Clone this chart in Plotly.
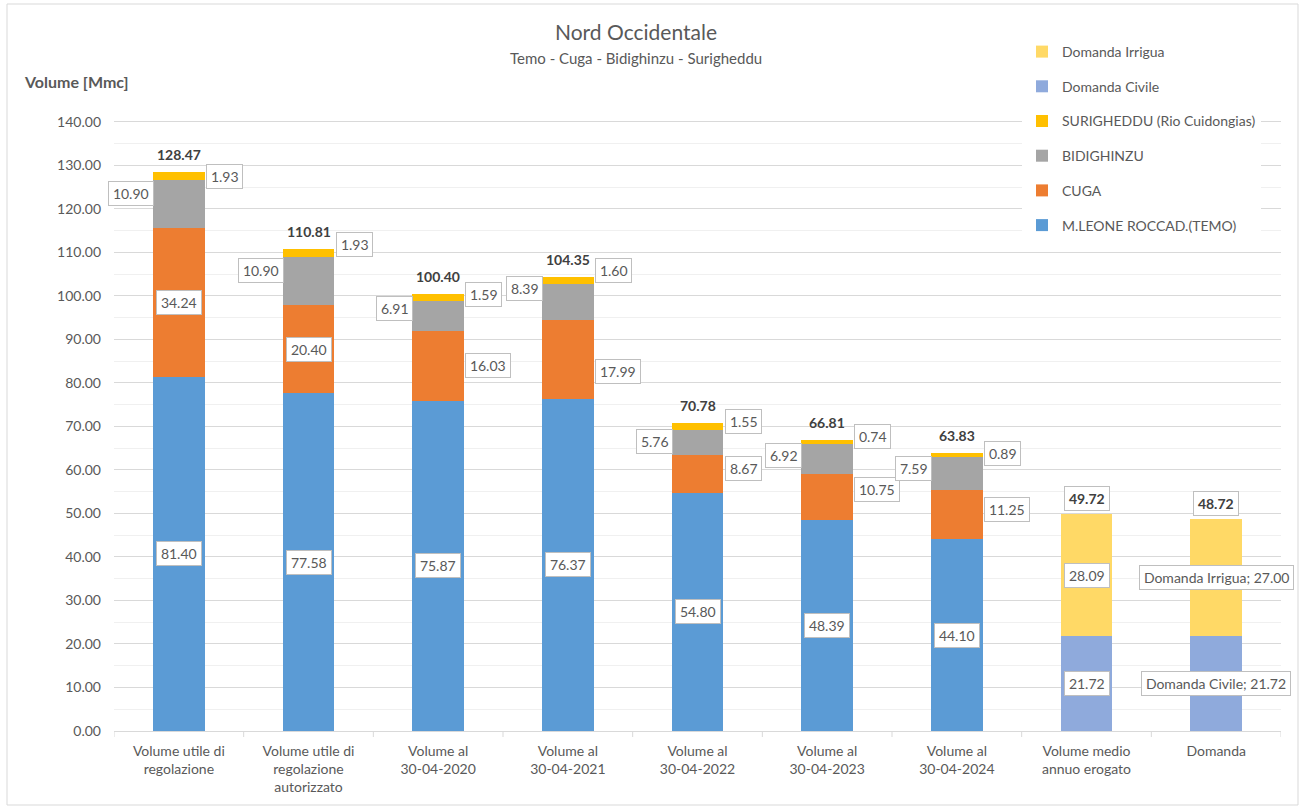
import plotly.graph_objects as go

# ---------------- data ----------------
categories = [
    "Volume utile di<br>regolazione",
    "Volume utile di<br>regolazione<br>autorizzato",
    "Volume al<br>30-04-2020",
    "Volume al<br>30-04-2021",
    "Volume al<br>30-04-2022",
    "Volume al<br>30-04-2023",
    "Volume al<br>30-04-2024",
    "Volume medio<br>annuo erogato",
    "Domanda",
]
temo = [81.40, 77.58, 75.87, 76.37, 54.80, 48.39, 44.10, None, None]
cuga = [34.24, 20.40, 16.03, 17.99, 8.67, 10.75, 11.25, None, None]
bidighinzu = [10.90, 10.90, 6.91, 8.39, 5.76, 6.92, 7.59, None, None]
surigheddu = [1.93, 1.93, 1.59, 1.60, 1.55, 0.74, 0.89, None, None]
dom_civile = [None, None, None, None, None, None, None, 21.72, 21.72]
dom_irrigua = [None, None, None, None, None, None, None, 28.09, 27.00]
totals = [128.47, 110.81, 100.40, 104.35, 70.78, 66.81, 63.83, 49.72, 48.72]
y_ticks = [0, 10, 20, 30, 40, 50, 60, 70, 80, 90, 100, 110, 120, 130, 140]

# ---------------- styles / label placement ----------------
FONT = "Lato, 'Open Sans', sans-serif"
TXT = "#595959"
BAR_W = 0.4
HALF_PX = 26  # half bar width in pixels
LBL = 14
PAD = "\u200a"

series = [
    ("M.LEONE ROCCAD.(TEMO)", temo, "#5B9BD5", 6),
    ("CUGA", cuga, "#ED7D31", 5),
    ("BIDIGHINZU", bidighinzu, "#A5A5A5", 4),
    ("SURIGHEDDU (Rio Cuidongias)", surigheddu, "#FFC000", 3),
    ("Domanda Civile", dom_civile, "#8FAADC", 2),
    ("Domanda Irrigua", dom_irrigua, "#FFD966", 1),
]
# per series, per category: (side, vertical pixel shift)
placement = {
    "M.LEONE ROCCAD.(TEMO)": [("c", 0)] * 7 + [None, None],
    "CUGA": [("c", 0), ("c", 0), ("r", 0), ("r", -12), ("r", 5), ("r", 8), ("r", 5), None, None],
    "BIDIGHINZU": [("l", 11), ("l", 10), ("l", 8), ("l", 14), ("l", 1), ("l", 3), ("l", 5), None, None],
    "SURIGHEDDU (Rio Cuidongias)": [("r", 0), ("r", 8), ("r", 3), ("r", 10), ("r", 5), ("r", 5), ("r", 2), None, None],
    "Domanda Civile": [None] * 7 + [("c", 0), ("c", 0)],
    "Domanda Irrigua": [None] * 7 + [("c", 0), ("c", 0)],
}
named_label = {("Domanda Civile", 8): True, ("Domanda Irrigua", 8): True}

fig = go.Figure()
for name, vals, col, rank in series:
    fig.add_trace(go.Bar(
        x=list(range(len(categories))), y=vals, name=name,
        marker=dict(color=col, line=dict(width=0)),
        width=BAR_W, legendgroup=name, legendrank=rank, hoverinfo="skip",
    ))

annotations = []
base = [0.0] * len(categories)
for name, vals, col, rank in series:
    for i, v in enumerate(vals):
        if v is None:
            continue
        mid = base[i] + v / 2
        side, dy = placement[name][i]
        text = f"{v:.2f}"
        if named_label.get((name, i)):
            text = f"{name}; {v:.2f}"
        if side == "c":
            xa, xs = "center", 0
        elif side == "r":
            xa, xs = "left", HALF_PX + 1
        else:
            xa, xs = "right", -HALF_PX + 1
        annotations.append(dict(
            x=i, y=mid, xref="x", yref="y", text=PAD + text + PAD,
            showarrow=False, xanchor=xa, yanchor="middle", xshift=xs, yshift=dy,
            bgcolor="white", bordercolor="#BFBFBF", borderwidth=1, borderpad=3,
            font=dict(family=FONT, size=LBL, color=TXT),
        ))
        base[i] += v

for i, t in enumerate(totals):
    boxed = i >= 7
    annotations.append(dict(
        x=i, y=base[i], xref="x", yref="y",
        text=(PAD if boxed else "") + f"<b>{t:.2f}</b>" + (PAD if boxed else ""),
        showarrow=False, xanchor="center", yanchor="bottom", yshift=5 if not boxed else 3,
        bgcolor="white" if boxed else "rgba(0,0,0,0)",
        bordercolor="#BFBFBF" if boxed else "rgba(0,0,0,0)", borderwidth=1, borderpad=3,
        font=dict(family=FONT, size=LBL, color="#404040"),
    ))

# titles (pixel -> paper conversion helpers)
L, R, T, B = 114, 25, 100, 78
W, H = 1306, 809
PW, PH = W - L - R, H - T - B
px = lambda x: (x - L) / PW
py = lambda y: (H - B - y) / PH

annotations += [
    dict(x=px(636), y=py(32), xref="paper", yref="paper", text="Nord Occidentale",
         showarrow=False, xanchor="center", yanchor="middle",
         font=dict(family=FONT, size=21, color=TXT)),
    dict(x=px(636), y=py(58), xref="paper", yref="paper", text="Temo - Cuga - Bidighinzu - Surigheddu",
         showarrow=False, xanchor="center", yanchor="middle",
         font=dict(family=FONT, size=15, color=TXT)),
    dict(x=px(22), y=py(82), xref="paper", yref="paper", text="<b>Volume [Mmc]</b>",
         showarrow=False, xanchor="left", yanchor="middle",
         font=dict(family=FONT, size=16, color=TXT)),
]

fig.update_layout(
    width=W, height=H,
    margin=dict(l=L, r=R, t=T, b=B, autoexpand=False),
    barmode="stack",
    paper_bgcolor="white", plot_bgcolor="white",
    font=dict(family=FONT, size=14, color=TXT),
    showlegend=True,
    legend=dict(
        x=px(1022), y=py(36), xanchor="left", yanchor="top",
        bgcolor="white", borderwidth=0,
        traceorder="grouped", tracegroupgap=13.5,
        font=dict(family=FONT, size=14, color=TXT),
        itemwidth=30,
    ),
    annotations=annotations,
    shapes=[dict(type="rect", xref="paper", yref="paper",
                 x0=px(7), x1=px(1298), y0=py(805), y1=py(4),
                 line=dict(color="#D9D9D9", width=1), layer="below")],
    xaxis=dict(
        tickmode="array", tickvals=list(range(len(categories))), ticktext=categories,
        range=[-0.5, len(categories) - 0.5],
        showline=True, linecolor="#D9D9D9", linewidth=1,
        ticks="", showgrid=False, ticklabelstandoff=7,
        tickfont=dict(family=FONT, size=14, color=TXT),
    ),
    yaxis=dict(
        range=[0, 145], tickmode="array", tickvals=y_ticks,
        ticktext=[f"{v:.2f}" for v in y_ticks],
        showgrid=True, gridcolor="#D9D9D9", gridwidth=1,
        minor=dict(dtick=5, tick0=0, showgrid=True, gridcolor="#F0F0F0", gridwidth=1),
        zeroline=False, showline=False,
        ticklabelstandoff=12,
        tickfont=dict(family=FONT, size=14, color=TXT),
    ),
)

# boundary tick marks between categories on the x axis
for k in range(len(categories) + 1):
    fig.add_shape(type="line", xref="x", yref="paper", x0=k - 0.5, x1=k - 0.5,
                  y0=0, y1=-6 / PH, line=dict(color="#D9D9D9", width=1))

fig.write_html("out.html")
